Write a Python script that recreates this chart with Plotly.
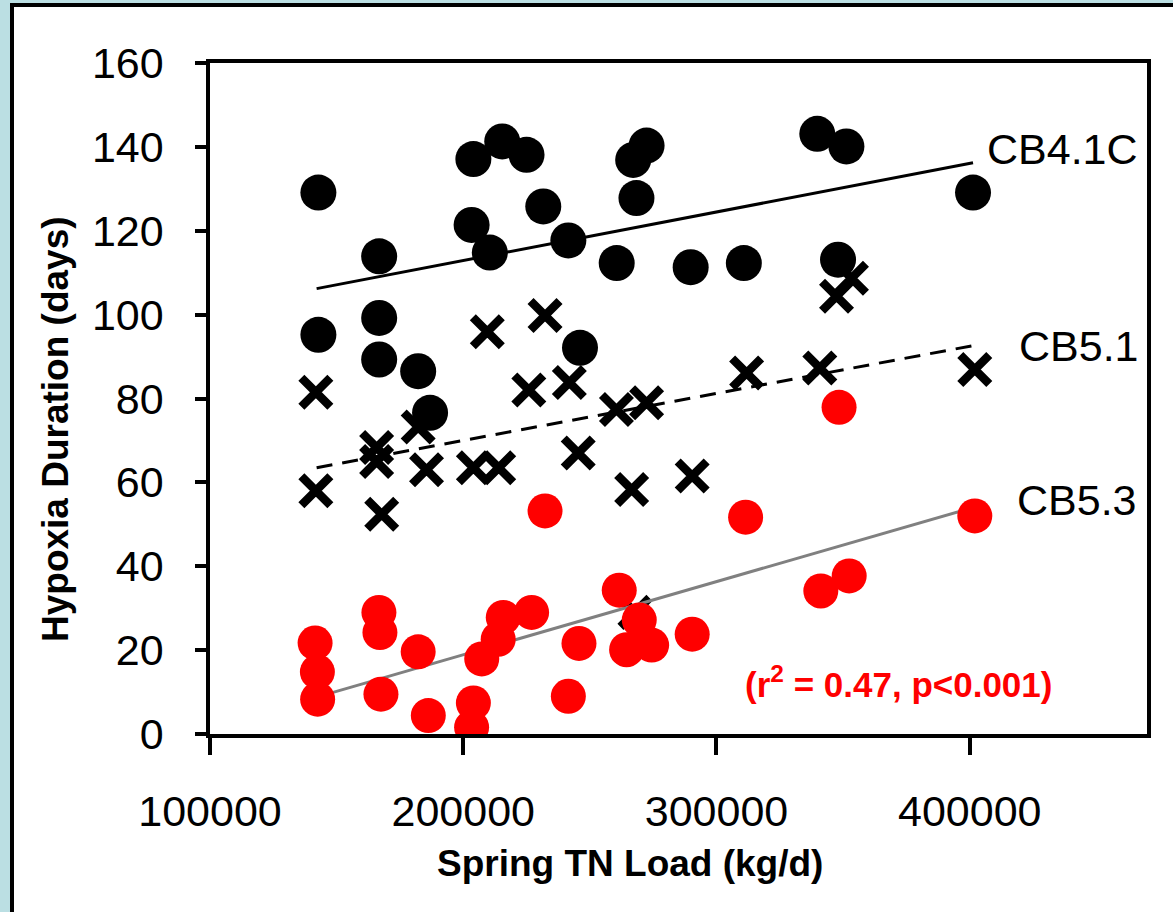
import plotly.graph_objects as go

# ---- data ----
cb41c_x = [142800, 166800, 204000, 215400, 225000, 203300, 210500, 231600, 241500, 260600,
           267100, 272400, 268400, 142800, 166800, 166800, 182200, 186900, 246100, 289800,
           310800, 339800, 351300, 401300, 348000]
cb41c_y = [129.1, 113.9, 137.1, 141.3, 138.1, 121.4, 114.8, 125.8, 117.7, 112.3,
           136.9, 140.3, 127.8, 95.2, 99.2, 89.3, 86.5, 76.6, 92.1, 111.3,
           112.3, 143.1, 140.1, 129.1, 113.1]

cb51_x = [141800, 141800, 165800, 165800, 167800, 182200, 185500, 204000, 214000, 209500,
          232300, 225900, 241900, 245400, 260500, 272400, 266500, 290400, 311900, 340800,
          347400, 353300, 402000, 267800]
cb51_y = [81.5, 58.0, 68.3, 65.0, 52.4, 73.2, 63.0, 63.5, 63.5, 95.9,
          99.8, 82.0, 83.8, 67.0, 77.4, 79.0, 58.3, 61.5, 86.1, 87.3,
          104.4, 108.7, 86.9, 29.0]

cb53_x = [141500, 142400, 142500, 166700, 167100, 167500, 182200, 186200, 204000, 203300,
          207300, 215800, 213800, 227000, 232300, 245700, 241500, 261600, 269500, 264500,
          274400, 290400, 311500, 348400, 402000, 341200, 352400]
cb53_y = [21.7, 14.8, 8.3, 29.0, 24.2, 9.5, 19.6, 4.4, 7.4, 1.6,
          17.9, 27.8, 22.6, 29.0, 53.2, 21.6, 9.0, 34.3, 27.2, 20.1,
          21.2, 23.8, 51.7, 77.9, 52.0, 34.1, 37.7]

# trend line end points
trend_x = [142100, 401300]
trend41c_y = [106.2, 136.2]
trend51_y = [63.5, 92.6]
trend53_y = [8.8, 54.0]

x_ticks = [100000, 200000, 300000, 400000]
x_ticklabels = ["100000", "200000", "300000", "400000"]
y_ticks = [0, 20, 40, 60, 80, 100, 120, 140, 160]

FONT = "Liberation Sans, Arial, sans-serif"
BG = "#BBDFE3"

fig = go.Figure()

fig.add_trace(go.Scatter(x=cb41c_x, y=cb41c_y, mode="markers",
                         marker=dict(symbol="circle", size=36, color="black", line=dict(width=0)),
                         showlegend=False))
fig.add_trace(go.Scatter(x=cb51_x, y=cb51_y, mode="markers",
                         marker=dict(symbol="x-thin", size=29, color="black",
                                     line=dict(width=8.5, color="black")),
                         showlegend=False))
fig.add_trace(go.Scatter(x=trend_x, y=trend51_y, mode="lines",
                         line=dict(color="black", width=3, dash="16px,10px"), showlegend=False))
fig.add_trace(go.Scatter(x=trend_x, y=trend41c_y, mode="lines",
                         line=dict(color="black", width=3), showlegend=False))
fig.add_trace(go.Scatter(x=trend_x, y=trend53_y, mode="lines",
                         line=dict(color="#808080", width=3), showlegend=False))
fig.add_trace(go.Scatter(x=cb53_x, y=cb53_y, mode="markers",
                         marker=dict(symbol="circle", size=35, color="#FF0000", line=dict(width=0)),
                         showlegend=False))

L, R, T, B = 210, 26, 63, 178
W, H = 1173, 912
pw, ph = W - L - R, H - T - B


def px(x):
    return (x - L) / pw


def py(y):
    return (H - B - y) / ph


fig.update_layout(
    width=W, height=H,
    margin=dict(l=L, r=R, t=T, b=B, pad=0),
    paper_bgcolor=BG,
    plot_bgcolor="white",
    font=dict(family=FONT, color="black"),
    xaxis=dict(range=[100000, 470000], tickvals=x_ticks, ticktext=x_ticklabels,
               showline=True, linewidth=3.5, linecolor="black", mirror=True,
               ticks="outside", ticklen=17, tickwidth=3.5, tickcolor="black",
               showgrid=False, zeroline=False, tickfont=dict(size=43, family=FONT),
               ticklabelstandoff=20),
    yaxis=dict(range=[0, 160], tickvals=y_ticks,
               showline=True, linewidth=3.5, linecolor="black", mirror=True,
               ticks="outside", ticklen=11, tickwidth=3.5, tickcolor="black",
               showgrid=False, zeroline=False, tickfont=dict(size=43, family=FONT),
               ticklabelstandoff=23),
    shapes=[dict(type="rect", xref="paper", yref="paper", layer="below",
                 x0=px(12), x1=px(1200), y0=py(940), y1=py(5),
                 line=dict(color="black", width=4), fillcolor="white")],
)

fig.add_annotation(text="CB4.1C", x=405960, y=139.5, xref="x", yref="y",
                   xanchor="left", yanchor="middle", showarrow=False,
                   font=dict(size=43, family=FONT, color="black"))
fig.add_annotation(text="CB5.1", x=418600, y=92.6, xref="x", yref="y",
                   xanchor="left", yanchor="middle", showarrow=False,
                   font=dict(size=43, family=FONT, color="black"))
fig.add_annotation(text="CB5.3", x=417800, y=55.7, xref="x", yref="y",
                   xanchor="left", yanchor="middle", showarrow=False,
                   font=dict(size=43, family=FONT, color="black"))
fig.add_annotation(text="<b>(r<sup>2</sup> = 0.47, p&lt;0.001)</b>", x=371700, y=12.4,
                   xref="x", yref="y", xanchor="center", yanchor="middle", showarrow=False,
                   font=dict(size=35, family=FONT, color="#FF0000"))
fig.add_annotation(text="<b>Hypoxia Duration (days)</b>", x=px(55), y=py(429),
                   xref="paper", yref="paper", xanchor="center", yanchor="middle",
                   textangle=-90, showarrow=False,
                   font=dict(size=37, family=FONT, color="black"))
fig.add_annotation(text="<b>Spring TN Load (kg/d)</b>", x=px(630), y=py(863),
                   xref="paper", yref="paper", xanchor="center", yanchor="middle",
                   showarrow=False, font=dict(size=37, family=FONT, color="black"))

fig.write_html(
    "out.html",
    config={"displayModeBar": False},
    post_script="document.body.style.margin='0';document.body.style.padding='0';"
                "document.body.style.overflow='hidden';"
                "document.body.style.background='" + BG + "';",
)
